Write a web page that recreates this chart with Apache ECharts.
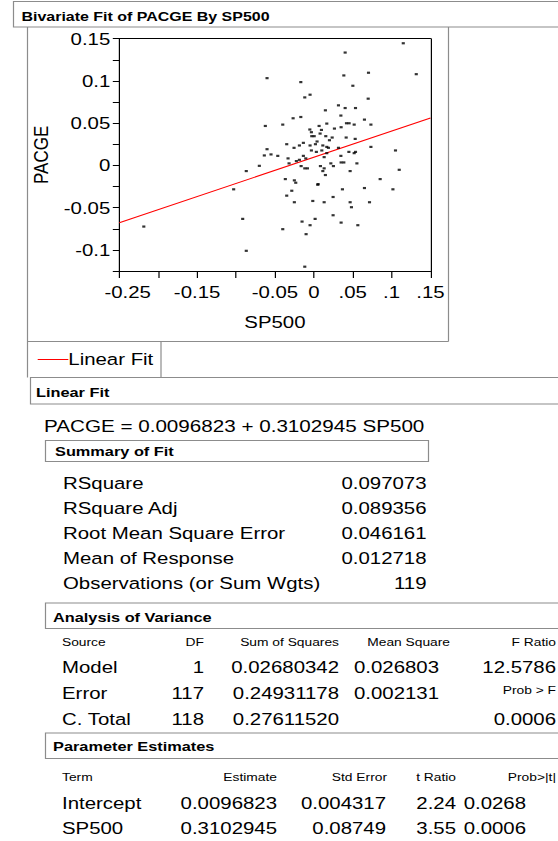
<!DOCTYPE html>
<html><head><meta charset="utf-8">
<script src="https://cdn.jsdelivr.net/npm/echarts@6/dist/echarts.min.js"></script>
<style>
html,body{margin:0;padding:0;background:#fff;overflow:hidden;}
#wrap{width:558px;height:841px;overflow:hidden;position:relative;}
#chart{width:465px;height:841px;transform:scaleX(1.2);transform-origin:0 0;}
</style></head><body><div id="wrap"><div id="chart"></div></div>
<script>
// ---------------- data ----------------
const sp500 = [0.1150,0.0403,0.0386,0.0703,0.1317,-0.0167,0.0502,-0.0116,-0.0048,0.0699,
0.0317,0.0403,0.0536,0.0149,0.0348,-0.0266,-0.0167,0.0651,-0.0399,0.0167,
0.0420,0.0454,0.0519,0.0734,0.0068,0.0351,0.0265,0.0098,-0.0051,-0.0031,
0.0081,-0.0026,0.0005,0.0154,0.0236,0.0201,0.0416,0.0532,0.0042,-0.0134,
-0.0348,-0.0185,-0.0048,0.0021,0.0116,0.0167,0.0188,-0.0254,0.0317,0.0734,
0.0103,-0.0031,0.0033,0.1050,0.0451,0.0519,0.0536,-0.0550,-0.0463,-0.0134,
0.0167,0.0133,0.0348,-0.0331,-0.0185,-0.0103,-0.0224,-0.0318,0.0351,0.0386,
0.0219,0.0252,0.0085,-0.0163,0.0554,-0.0116,-0.0082,0.0133,0.0116,0.0467,
0.1098,0.0149,-0.0366,-0.0250,-0.0232,0.0853,0.0055,0.0051,-0.0283,0.0368,
0.0651,0.1017,-0.0348,0.0248,-0.0250,-0.0013,0.0133,0.0467,0.0716,0.0484,
0.0248,0.0017,-0.0151,-0.0048,0.0351,0.0566,-0.0399,-0.0099,-0.0116,-0.2185,
-0.1030,-0.0914,-0.0868,-0.0868,-0.0700,-0.0636,-0.0601,-0.0623,-0.0601];
const pacge = [0.1446,0.1336,0.1065,0.1097,0.1080,0.0986,0.0943,0.0805,0.0837,0.0790,
0.0711,0.0679,0.0679,0.0652,0.0590,0.0558,0.0573,0.0542,0.0483,0.0495,
0.0499,0.0499,0.0483,0.0483,0.0467,0.0452,0.0436,0.0420,0.0425,0.0393,
0.0377,0.0346,0.0346,0.0346,0.0330,0.0298,0.0330,0.0314,0.0283,0.0267,
0.0251,0.0236,0.0236,0.0251,0.0236,0.0219,0.0208,0.0208,0.0208,0.0219,
0.0177,0.0177,0.0160,0.0177,0.0160,0.0145,0.0160,0.0130,0.0113,0.0113,
0.0145,0.0098,0.0113,0.0083,0.0066,0.0083,0.0051,0.0024,0.0035,0.0035,
0.0024,-0.0008,-0.0008,-0.0008,0.0024,-0.0035,-0.0035,-0.0035,-0.0067,-0.0067,
-0.0052,-0.0114,-0.0162,-0.0177,-0.0205,-0.0162,-0.0221,-0.0229,-0.0300,-0.0283,
-0.0268,-0.0283,-0.0358,-0.0374,-0.0436,-0.0421,-0.0436,-0.0436,-0.0436,-0.0495,
-0.0590,-0.0633,-0.0665,-0.0708,-0.0677,-0.0708,-0.0755,-0.0814,-0.1199,-0.0724,
-0.0283,-0.0633,-0.1011,-0.0067,-0.0005,0.0118,0.0192,0.0467,0.1033];
const fitIntercept = 0.0096823;
const fitSlope = 0.3102945;
const xMin = -0.25, xMax = 0.15, xStep = 0.05;
const yMin = -0.125, yMax = 0.15, yStep = 0.025;
const xTickLabels = ['-0.25','','-0.15','','-0.05','0','.05','.1','.15'];
const yTickLabels = ['','-0.1','','-0.05','','0','','0.05','','0.1','','0.15'];

const summaryLabels = ['RSquare','RSquare Adj','Root Mean Square Error','Mean of Response','Observations (or Sum Wgts)'];
const summaryValues = ['0.097073','0.089356','0.046161','0.012718','119'];
const anovaHeader = ['Source','DF','Sum of Squares','Mean Square','F Ratio'];
const anovaSource = ['Model','Error','C. Total'];
const anovaDF = [1,117,118];
const anovaSS = ['0.02680342','0.24931178','0.27611520'];
const anovaMS = ['0.026803','0.002131',''];
const anovaF = '12.5786';
const anovaProbF = '0.0006';
const paramHeader = ['Term','Estimate','Std Error','t Ratio','Prob>|t|'];
const paramTerm = ['Intercept','SP500'];
const paramEstimate = ['0.0096823','0.3102945'];
const paramStdErr = ['0.004317','0.08749'];
const paramT = ['2.24','3.55'];
const paramP = ['0.0268','0.0006'];

// ---------------- drawing ----------------
const SX = 1.2;
const FONT = '"Liberation Sans", Arial, Helvetica, sans-serif';
const X = px => px / SX;
const GRAY = '#8c8c8c';

function txt(x, y, s, size, opt) {
  opt = opt || {};
  const a = opt.align || 'left';
  return {type:'text', x:X(x), y:y, silent:true, z:10,
    style:{text:String(s), fontFamily:FONT, fontSize:size, fontWeight:opt.bold?'bold':'normal',
      fill:'#000', align:a, textAlign:a, verticalAlign:'middle', textVerticalAlign:'middle'}};
}
function rect(x, y, w, h) {
  return {type:'rect', silent:true, shape:{x:X(x), y:y, width:X(w), height:h},
    style:{fill:'none', stroke:GRAY, lineWidth:1}};
}
function seg(x1, y1, x2, y2) {
  return {type:'line', silent:true, shape:{x1:X(x1), y1:y1, x2:X(x2), y2:y2},
    style:{stroke:GRAY, lineWidth:1}};
}

const g = [];
g.push(rect(13.5, 1.5, 640, 25.5));
g.push(txt(21.5, 16.5, 'Bivariate Fit of PACGE By SP500', 13.3, {bold:true}));
g.push(seg(27.5, 27, 27.5, 377.5));
g.push(seg(448.5, 27, 448.5, 341.5));
g.push(seg(27.5, 341.5, 448.5, 341.5));
g.push(seg(161, 341.5, 161, 377.5));

g.push(rect(30.5, 377.5, 640, 26.5));
g.push(txt(36, 392.5, 'Linear Fit', 13.6, {bold:true}));
g.push(txt(44, 426.5, 'PACGE = ' + fitIntercept.toFixed(7) + ' + ' + fitSlope.toFixed(7) + ' SP500', 17.2));

g.push(rect(45.5, 440.5, 383, 21));
g.push(txt(55, 451, 'Summary of Fit', 13.6, {bold:true}));
const sumY = [483, 508, 533, 558, 583];
summaryLabels.forEach((s, i) => {
  g.push(txt(63, sumY[i], s, 17));
  g.push(txt(426.5, sumY[i], summaryValues[i], 17, {align:'right'}));
});

g.push(rect(45.5, 603, 640, 25.5));
g.push(txt(53, 617, 'Analysis of Variance', 13.6, {bold:true}));
const aovCol = [62, 204, 339, 450, 556];
const aovAlign = ['left','right','right','right','right'];
anovaHeader.forEach((s, i) => g.push(txt(aovCol[i], 642.5, s, 11.5, {align:aovAlign[i]})));
const aovY = [667.5, 693.5, 719.5];
anovaSource.forEach((s, i) => {
  g.push(txt(62, aovY[i], s, 17));
  g.push(txt(204, aovY[i], anovaDF[i], 17, {align:'right'}));
  g.push(txt(339, aovY[i], anovaSS[i], 17, {align:'right'}));
  if (anovaMS[i]) g.push(txt(439, aovY[i], anovaMS[i], 17, {align:'right'}));
});
g.push(txt(556, aovY[0], anovaF, 17, {align:'right'}));
g.push(txt(556, 690.5, 'Prob > F', 11.5, {align:'right'}));
g.push(txt(556, aovY[2], anovaProbF, 17, {align:'right'}));

g.push(rect(45.5, 733, 640, 25.5));
g.push(txt(53, 746.5, 'Parameter Estimates', 13.6, {bold:true}));
const parCol = [62, 277, 387, 456, 556];
const parValCol = [62, 277, 386, 456, 526];
const parAlign = ['left','right','right','right','right'];
paramHeader.forEach((s, i) => g.push(txt(parCol[i], 777.5, s, 11.5, {align:parAlign[i]})));
const parY = [803.5, 828.5];
paramTerm.forEach((s, i) => {
  const row = [s, paramEstimate[i], paramStdErr[i], paramT[i], paramP[i]];
  row.forEach((v, j) => g.push(txt(parValCol[j], parY[i], v, 17, {align:parAlign[j]})));
});

const gridL = X(119.3), gridR = X(430.5);
const labelStyle = {color:'#000', fontSize:17, fontFamily:FONT};

const chart = echarts.init(document.getElementById('chart'), null, {renderer:'svg'});
chart.setOption({
  animation:false,
  backgroundColor:'#fff',
  grid:{left:gridL, top:38.7, width:gridR - gridL, height:271 - 38.7, outerBoundsMode:'none', containLabel:false},
  xAxis:[{
    type:'value', min:xMin, max:xMax, interval:xStep, position:'bottom',
    axisLine:{show:true, onZero:false, lineStyle:{color:'#000', width:1}},
    axisTick:{show:true, length:7, lineStyle:{color:'#000', width:1}},
    splitLine:{show:false},
    axisLabel:Object.assign({show:true, margin:13, showMinLabel:true, showMaxLabel:true,
      formatter:(v)=>{const k = Math.round((v - xMin)/xStep); const t = xTickLabels[k] || ''; return k === 0 ? '{s|' + t + '}' : t;},
      rich:{s:Object.assign({padding:[0,0,0,14]}, labelStyle)}}, labelStyle),
    name:'SP500', nameLocation:'middle', nameGap:43, nameTextStyle:labelStyle
  },{
    type:'value', min:xMin, max:xMax, interval:xStep, position:'top',
    axisLine:{show:true, onZero:false, lineStyle:{color:'#000', width:1}},
    axisTick:{show:false}, axisLabel:{show:false}, splitLine:{show:false}
  }],
  yAxis:[{
    type:'value', min:yMin, max:yMax, interval:yStep, position:'left',
    axisLine:{show:true, onZero:false, lineStyle:{color:'#000', width:1}},
    axisTick:{show:true, length:X(6.5), lineStyle:{color:'#000', width:1}},
    splitLine:{show:false},
    axisLabel:Object.assign({show:true, margin:X(9), showMinLabel:true, showMaxLabel:true,
      formatter:(v)=>{const k = Math.round((v - yMin)/yStep); return yTickLabels[k] || '';}}, labelStyle),
    name:'PACGE', nameLocation:'middle', nameRotate:90, nameGap:X(53), nameTextStyle:labelStyle
  },{
    type:'value', min:yMin, max:yMax, interval:yStep, position:'right',
    axisLine:{show:true, onZero:false, lineStyle:{color:'#000', width:1}},
    axisTick:{show:false}, axisLabel:{show:false}, splitLine:{show:false}
  }],
  legend:{show:true, selectedMode:false, left:X(37.7), top:351, padding:0, itemGap:0,
    itemWidth:X(30.6), itemHeight:1,
    data:[{name:'Linear Fit', icon:'rect'}],
    textStyle:Object.assign({padding:[0,0,0,-5]}, labelStyle)},
  series:[{
    name:'Linear Fit', type:'line', xAxisIndex:0, yAxisIndex:0, silent:true, z:2,
    symbol:'none', color:'#ff0000',
    lineStyle:{color:'#ff0000', width:1}, itemStyle:{color:'#ff0000'},
    data:[[xMin, fitIntercept + fitSlope * xMin], [xMax, fitIntercept + fitSlope * xMax]]
  },{
    name:'points', type:'scatter', xAxisIndex:0, yAxisIndex:0, silent:true, z:3,
    symbol:'rect', symbolSize:[2.6, 2.2], itemStyle:{color:'#000'},
    data:sp500.map((x, i) => [x, pacge[i]])
  }],
  graphic:{elements:g}
});
</script></body></html>
